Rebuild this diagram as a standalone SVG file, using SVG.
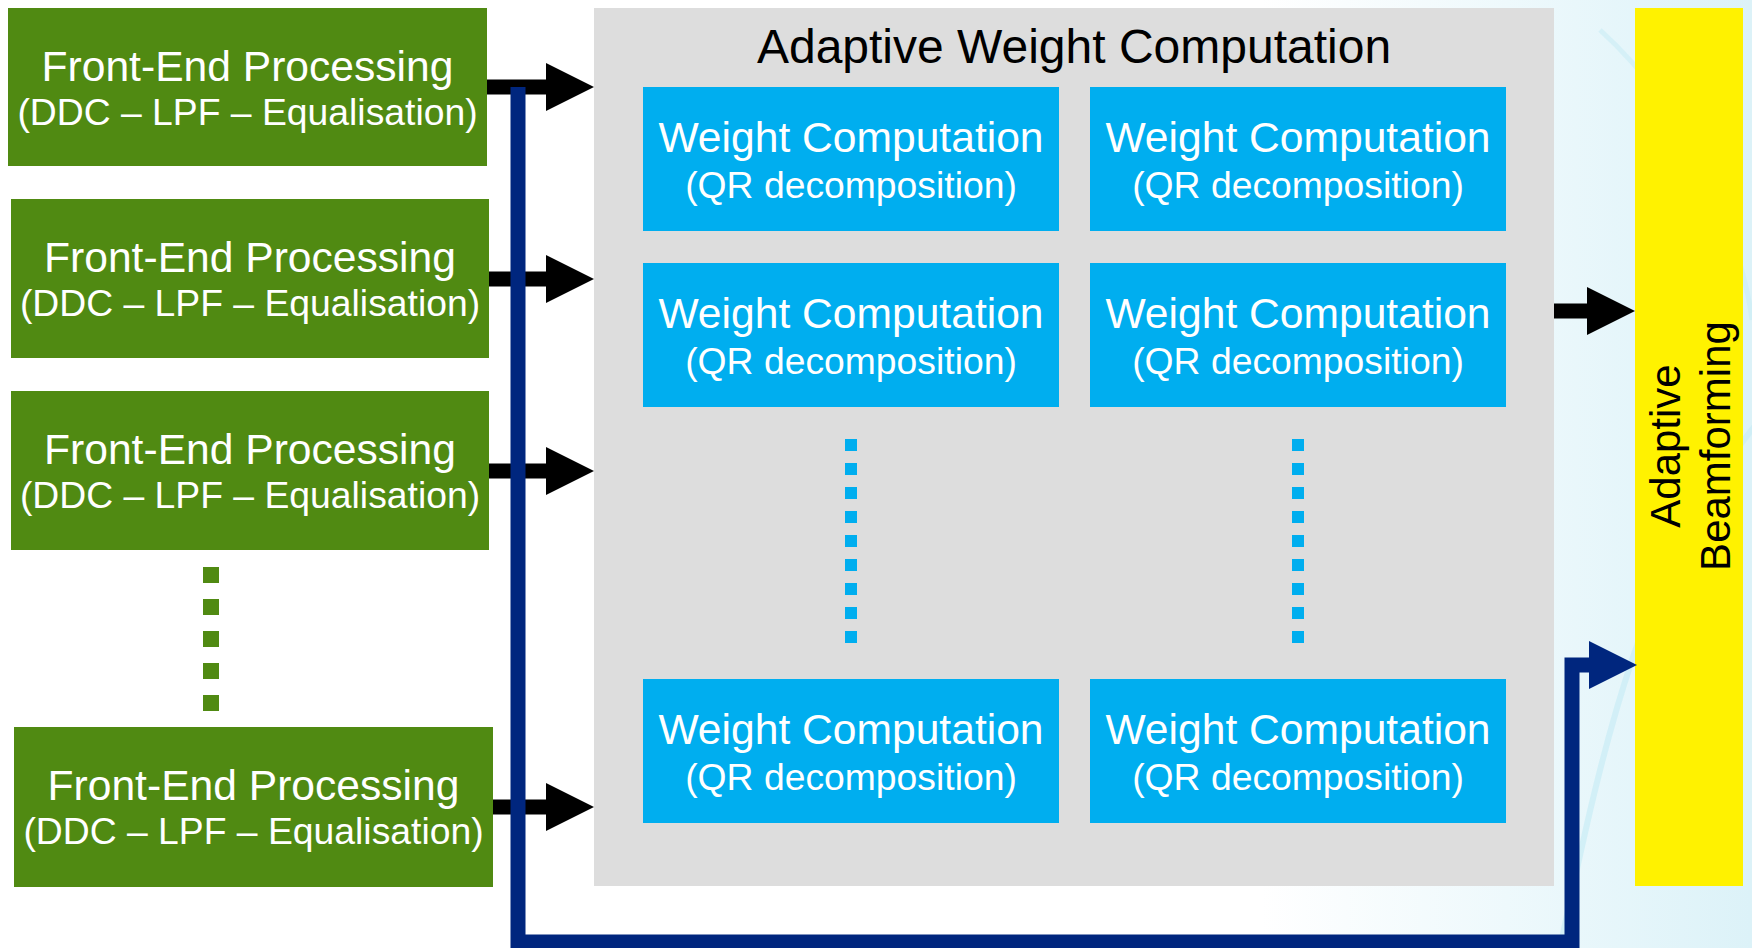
<svg xmlns="http://www.w3.org/2000/svg" width="1752" height="948" viewBox="0 0 1752 948">
<defs>
<linearGradient id="bg" x1="0" y1="0" x2="1" y2="0">
<stop offset="0" stop-color="#ffffff"/>
<stop offset="0.72" stop-color="#ffffff"/>
<stop offset="0.86" stop-color="#eef9fc"/>
<stop offset="1" stop-color="#dcf2f8"/>
</linearGradient>
<style>
.fe{fill:#508A12}
.wc{fill:#00AEEF}
.wt{font-family:"Liberation Sans",Arial,sans-serif;fill:#ffffff;text-anchor:middle}
.l1{font-size:42.6px}
.l2{font-size:37.3px}
.bk{font-family:"Liberation Sans",Arial,sans-serif;fill:#000000;text-anchor:middle}
.shaft{stroke:#000000;stroke-width:15;fill:none}
.head{fill:#000000}
.gd{fill:#508A12}
.bd{fill:#00AEEF}
</style>
</defs>
<rect x="0" y="0" width="1752" height="948" fill="url(#bg)"/>
<path d="M1560,948 C1600,760 1640,560 1760,420" stroke="#c9ecf5" stroke-width="6" fill="none" opacity="0.7"/>
<path d="M1600,30 C1700,120 1745,260 1752,320" stroke="#c9ecf5" stroke-width="5" fill="none" opacity="0.6"/>

<g id="awc">
<rect x="594" y="8" width="960" height="878" fill="#DDDDDD"/>
<text class="bk" x="1074" y="63" font-size="48">Adaptive Weight Computation</text>
</g>

<g id="fe1">
<rect class="fe" x="8" y="8" width="479" height="158"/>
<text class="wt l1" x="247.5" y="81">Front-End Processing</text>
<text class="wt l2" x="247.5" y="125">(DDC – LPF – Equalisation)</text>
</g>
<g id="fe2">
<rect class="fe" x="11" y="199" width="478" height="159"/>
<text class="wt l1" x="250" y="272">Front-End Processing</text>
<text class="wt l2" x="250" y="316">(DDC – LPF – Equalisation)</text>
</g>
<g id="fe3">
<rect class="fe" x="11" y="391" width="478" height="159"/>
<text class="wt l1" x="250" y="464">Front-End Processing</text>
<text class="wt l2" x="250" y="508">(DDC – LPF – Equalisation)</text>
</g>
<g id="fe-dots">
<rect class="gd" x="203" y="567" width="16" height="16"/>
<rect class="gd" x="203" y="599" width="16" height="16"/>
<rect class="gd" x="203" y="631" width="16" height="16"/>
<rect class="gd" x="203" y="663" width="16" height="16"/>
<rect class="gd" x="203" y="695" width="16" height="16"/>
</g>
<g id="fe4">
<rect class="fe" x="14" y="727" width="479" height="160"/>
<text class="wt l1" x="253.5" y="800">Front-End Processing</text>
<text class="wt l2" x="253.5" y="844">(DDC – LPF – Equalisation)</text>
</g>

<g id="wc11">
<rect class="wc" x="643" y="87" width="416" height="144"/>
<text class="wt l1" x="851" y="152">Weight Computation</text>
<text class="wt l2" x="851" y="198">(QR decomposition)</text>
</g>
<g id="wc12">
<rect class="wc" x="1090" y="87" width="416" height="144"/>
<text class="wt l1" x="1298" y="152">Weight Computation</text>
<text class="wt l2" x="1298" y="198">(QR decomposition)</text>
</g>
<g id="wc21">
<rect class="wc" x="643" y="263" width="416" height="144"/>
<text class="wt l1" x="851" y="328">Weight Computation</text>
<text class="wt l2" x="851" y="374">(QR decomposition)</text>
</g>
<g id="wc22">
<rect class="wc" x="1090" y="263" width="416" height="144"/>
<text class="wt l1" x="1298" y="328">Weight Computation</text>
<text class="wt l2" x="1298" y="374">(QR decomposition)</text>
</g>
<g id="wc-dots">
<rect class="bd" x="845" y="439" width="12" height="12"/>
<rect class="bd" x="845" y="463" width="12" height="12"/>
<rect class="bd" x="845" y="487" width="12" height="12"/>
<rect class="bd" x="845" y="511" width="12" height="12"/>
<rect class="bd" x="845" y="535" width="12" height="12"/>
<rect class="bd" x="845" y="559" width="12" height="12"/>
<rect class="bd" x="845" y="583" width="12" height="12"/>
<rect class="bd" x="845" y="607" width="12" height="12"/>
<rect class="bd" x="845" y="631" width="12" height="12"/>
<rect class="bd" x="1292" y="439" width="12" height="12"/>
<rect class="bd" x="1292" y="463" width="12" height="12"/>
<rect class="bd" x="1292" y="487" width="12" height="12"/>
<rect class="bd" x="1292" y="511" width="12" height="12"/>
<rect class="bd" x="1292" y="535" width="12" height="12"/>
<rect class="bd" x="1292" y="559" width="12" height="12"/>
<rect class="bd" x="1292" y="583" width="12" height="12"/>
<rect class="bd" x="1292" y="607" width="12" height="12"/>
<rect class="bd" x="1292" y="631" width="12" height="12"/>
</g>
<g id="wc31">
<rect class="wc" x="643" y="679" width="416" height="144"/>
<text class="wt l1" x="851" y="744">Weight Computation</text>
<text class="wt l2" x="851" y="790">(QR decomposition)</text>
</g>
<g id="wc32">
<rect class="wc" x="1090" y="679" width="416" height="144"/>
<text class="wt l1" x="1298" y="744">Weight Computation</text>
<text class="wt l2" x="1298" y="790">(QR decomposition)</text>
</g>

<g id="abf">
<rect x="1635" y="8" width="108" height="878" fill="#FFF200"/>
<text class="bk" font-size="42" transform="translate(1680,446) rotate(-90)">Adaptive</text>
<text class="bk" font-size="42" transform="translate(1730,446) rotate(-90)">Beamforming</text>
</g>

<g id="connectors">
<path class="shaft" d="M487,87 H548"/>
<polygon class="head" points="546,63 594,87 546,111"/>
<path class="shaft" d="M489,279 H548"/>
<polygon class="head" points="546,255 594,279 546,303"/>
<path class="shaft" d="M489,471 H548"/>
<polygon class="head" points="546,447 594,471 546,495"/>
<path class="shaft" d="M493,807 H548"/>
<polygon class="head" points="546,783 594,807 546,831"/>
<path class="shaft" d="M1554,311 H1589"/>
<polygon class="head" points="1587,287 1635,311 1587,335"/>
<path d="M518,87 V942 H1572 V665 H1591" stroke="#00267E" stroke-width="15" fill="none" stroke-linejoin="miter"/>
<polygon points="1589,641 1637,665 1589,689" fill="#00267E"/>
</g>
</svg>
